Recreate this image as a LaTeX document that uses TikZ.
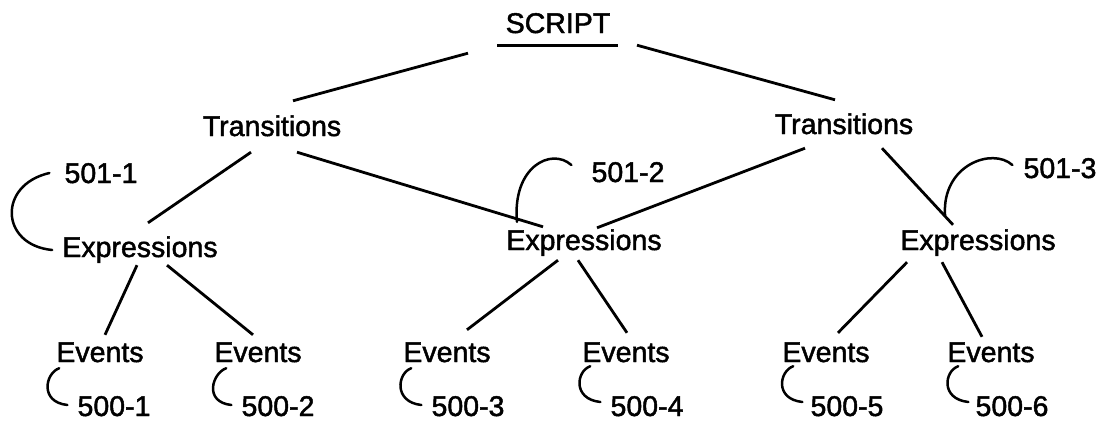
\documentclass[tikz,border=0pt]{standalone}
\usepackage{fontspec}
\setmainfont{Liberation Sans}[FakeBold=1.6]
\usepackage{tikz}
\tikzset{%
  term/.style  = {anchor=base, inner sep=0pt, text height=20pt, text depth=6pt,%
                  font=\fontsize{28.5}{32}\selectfont},%
  refno/.style = {term},%
  link/.style  = {line width=2.8pt},%
  hook/.style  = {line width=2.5pt, line cap=round}%
}
\begin{document}
\begin{tikzpicture}[x=1pt,y=-1pt]
	\useasboundingbox (0,0) rectangle (1107,423);
	\node [term] (script) at (558,33) {SCRIPT};
	\node [term] (tl) at (272,136) {Transitions};
	\node [term] (tr) at (844,134) {Transitions};
	\node [term] (el) at (140,257) {Expressions};
	\node [term] (em) at (584,250) {Expressions};
	\node [term] (er) at (978,250) {Expressions};
	\node [term] (ev1) at (100,362) {Events};
	\node [term] (ev2) at (258,362) {Events};
	\node [term] (ev3) at (447,362) {Events};
	\node [term] (ev4) at (626,362) {Events};
	\node [term] (ev5) at (826,362) {Events};
	\node [term] (ev6) at (991,362) {Events};
	\node [refno] (r1) at (101,183) {501-1};
	\node [refno] (r2) at (628,182) {501-2};
	\node [refno] (r3) at (1060,178) {501-3};
	\node [refno] (n1) at (114,416) {500-1};
	\node [refno] (n2) at (278,416) {500-2};
	\node [refno] (n3) at (468,416) {500-3};
	\node [refno] (n4) at (647,416) {500-4};
	\node [refno] (n5) at (847,416) {500-5};
	\node [refno] (n6) at (1012,416) {500-6};
	\draw [link] ([shift={(-61,6)}]script.south) -- ([shift={(60,6)}]script.south);
	\draw [link] ([shift={(-90,14)}]script.south) -- ([shift={(21,-15)}]tl.north);
	\draw [link] ([shift={(79,6)}]script.south) -- ([shift={(-9,-14)}]tr.north);
	\draw [link] ([shift={(-21,10)}]tl.south) -- ([shift={(8,-14)}]el.north);
	\draw [link] ([shift={(25,10)}]tl.south) -- ([shift={(-41,-3)}]em.north);
	\draw [link] ([shift={(-39,8)}]tr.south) -- ([shift={(13,-2)}]em.north);
	\draw [link] ([shift={(38,8)}]tr.south) -- ([shift={(-25,-5)}]er.north);
	\draw [link] ([shift={(-3,2)}]el.south) -- ([shift={(5,-7)}]ev1.north);
	\draw [link] ([shift={(27,2)}]el.south) -- ([shift={(-5,-7)}]ev2.north);
	\draw [link] ([shift={(-26,4)}]em.south) -- ([shift={(20,-12)}]ev3.north);
	\draw [link] ([shift={(-6,4)}]em.south) -- ([shift={(1,-9)}]ev4.north);
	\draw [link] ([shift={(-71,6)}]er.south) -- ([shift={(12,-9)}]ev5.north);
	\draw [link] ([shift={(-36,6)}]er.south) -- ([shift={(-9,-5)}]ev6.north);
	\draw [hook] ([shift={(-15,-3)}]r1.west) .. controls +(-52,12) and +(-52,-5) .. ([shift={(-10,0)}]el.west);
	\draw [hook] ([shift={(-20,-10)}]r2.west) .. controls +(-20,-18) and +(-5,-55) .. ([shift={(-67,-8)}]em.north);
	\draw [hook] ([shift={(-11,-6)}]r3.west) .. controls +(-20,-18) and +(-3,-50) .. ([shift={(-33,-15)}]er.north);
	\draw [hook] ([shift={(3,0)}]ev1.south west) .. controls +(-14,5) and +(-28,-3) .. ([shift={(-10,-4)}]n1.west);
	\draw [hook] ([shift={(12,0)}]ev2.south west) .. controls +(-14,5) and +(-28,-3) .. ([shift={(-10,-4)}]n2.west);
	\draw [hook] ([shift={(8,0)}]ev3.south west) .. controls +(-14,5) and +(-28,-3) .. ([shift={(-10,-4)}]n3.west);
	\draw [hook] ([shift={(8,-2)}]ev4.south west) .. controls +(-14,5) and +(-28,-3) .. ([shift={(-10,-7)}]n4.west);
	\draw [hook] ([shift={(11,-2)}]ev5.south west) .. controls +(-14,5) and +(-28,-3) .. ([shift={(-8,-7)}]n5.west);
	\draw [hook] ([shift={(11,-2)}]ev6.south west) .. controls +(-14,5) and +(-28,-3) .. ([shift={(-7,-7)}]n6.west);
\end{tikzpicture}
\end{document}
